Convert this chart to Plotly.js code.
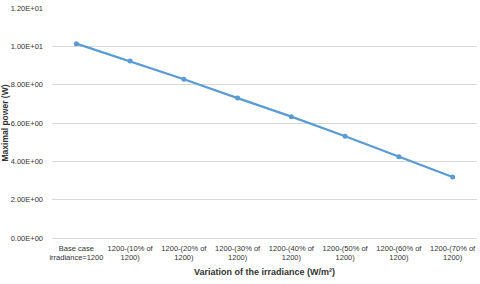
<!DOCTYPE html>
<html>
<head>
<meta charset="utf-8">
<script src="https://cdn.plot.ly/plotly-3.0.1.min.js"></script>
<style>html,body{margin:0;padding:0;background:#fff;}#chart{width:480px;height:284px;}</style>
</head>
<body>
<div id="chart"></div>
<script>
const categories = [
  "Base case<br>irradiance=1200",
  "1200-(10% of<br>1200)",
  "1200-(20% of<br>1200)",
  "1200-(30% of<br>1200)",
  "1200-(40% of<br>1200)",
  "1200-(50% of<br>1200)",
  "1200-(60% of<br>1200)",
  "1200-(70% of<br>1200)"
];
const maxPower = [10.14, 9.23, 8.28, 7.30, 6.33, 5.31, 4.24, 3.18];
const yTickVals = [0, 2, 4, 6, 8, 10, 12];
const yTickText = yTickVals.map(v => v.toExponential(2).toUpperCase().replace(/E([+-])(\d)$/, "E$10$2"));

const font = "Liberation Sans Narrow, Liberation Sans, Arial, sans-serif";

Plotly.newPlot("chart", [{
  x: categories,
  y: maxPower,
  type: "scatter",
  mode: "lines+markers",
  line: {color: "#5B9BD5", width: 2.25},
  marker: {color: "#5B9BD5", size: 5, symbol: "circle"},
  showlegend: false
}], {
  width: 480, height: 284,
  margin: {l: 52, r: 3, t: 8, b: 46},
  paper_bgcolor: "#fff", plot_bgcolor: "#fff",
  font: {family: font, color: "#333333", size: 7.5},
  xaxis: {
    type: "category",
    showgrid: false,
    showline: false,
    zeroline: false,
    ticks: "",
    tickangle: 0,
    ticklabelstandoff: 4,
    tickfont: {size: 7.5, color: "#333333", family: font},
    title: {text: "<b>Variation of the irradiance (W/m²)</b>", font: {size: 9, color: "#333333", family: font}, standoff: 7}
  },
  yaxis: {
    range: [0, 12],
    tickvals: yTickVals,
    ticktext: yTickText,
    showgrid: true,
    gridcolor: "#D9D9D9",
    gridwidth: 1,
    zeroline: true,
    zerolinecolor: "#D9D9D9",
    zerolinewidth: 1,
    showline: false,
    ticks: "",
    ticklabelstandoff: 8,
    tickfont: {size: 7.5, color: "#333333", family: font},
    title: {text: "<b>Maximal power (W)</b>", font: {size: 8.5, color: "#333333", family: font}, standoff: 5}
  }
}, {displayModeBar: false, staticPlot: true});
</script>
</body>
</html>
